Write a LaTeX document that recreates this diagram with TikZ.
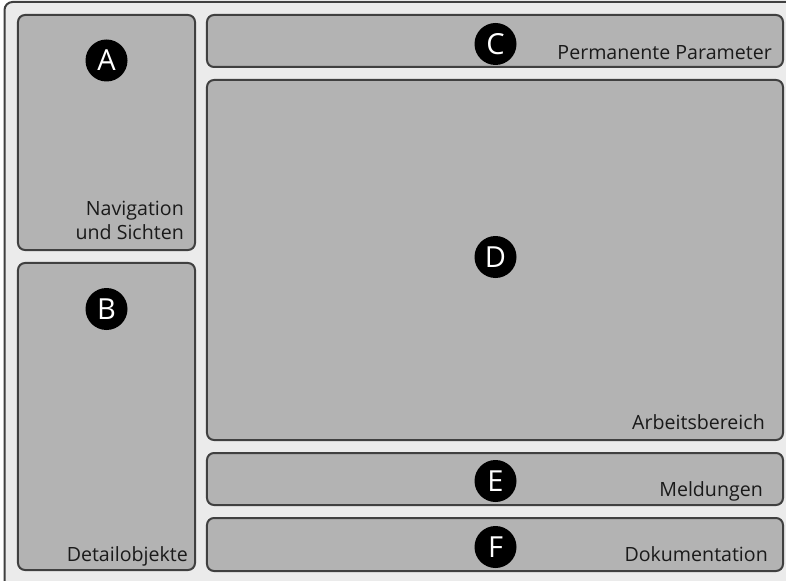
\documentclass[tikz,border=0pt]{standalone}
\usepackage{fontspec}
\setmainfont{Open Sans}
\definecolor{bgc}{HTML}{EBEBEB}
\definecolor{boxc}{HTML}{B3B3B3}
\definecolor{linec}{HTML}{404040}
\definecolor{txtc}{HTML}{1A1A1A}
\begin{document}
\begin{tikzpicture}[x=1bp,y=-1bp,
  panel/.style={draw=linec, fill=boxc, line width=2bp, rounded corners=7bp, inner sep=0pt, outer sep=0pt},
  badge/.style={circle, fill=black, text=white, minimum size=42bp, inner sep=0pt, font=\fontsize{29bp}{29bp}\selectfont},
  lbl/.style={anchor=base east, inner sep=0pt, text=txtc, font=\fontsize{19.6bp}{24bp}\selectfont}]
\useasboundingbox (0,0) rectangle (786,581);
\fill[white] (0,0) rectangle (786,581);
\draw[draw=linec, fill=bgc, line width=2bp, rounded corners=8bp] (4.5,2) rectangle (800,600);
% panels
\node[panel, minimum width=177bp, minimum height=235bp] (pA) at (106.5,132.5) {};
\node[panel, minimum width=177bp, minimum height=307bp] (pB) at (106.5,416.5) {};
\node[panel, minimum width=576bp, minimum height=52bp] (pC) at (495,41) {};
\node[panel, minimum width=576bp, minimum height=360bp] (pD) at (495,260) {};
\node[panel, minimum width=576bp, minimum height=52bp] (pE) at (495,479) {};
\node[panel, minimum width=576bp, minimum height=53bp] (pF) at (495,544.5) {};
% badges
\node[badge] (bA) at (106.5,60.5) {A};
\node[badge] (bB) at (106.5,309) {B};
\node[badge] (bC) at (495.5,44) {C};
\node[badge] (bD) at (495.5,257) {D};
\node[badge] (bE) at (495.5,481) {E};
\node[badge] (bF) at (495.5,547) {F};
% labels
\node[lbl, anchor=south east, align=right] (lA) at (184,240) {Navigation\\und Sichten};
\node[lbl] (lB) at (188,561.5) {Detailobjekte};
\node[lbl] (lC) at (772,60) {Permanente Parameter};
\node[lbl] (lD) at (765,429) {Arbeitsbereich};
\node[lbl] (lE) at (763,496.5) {Meldungen};
\node[lbl] (lF) at (768,561.5) {Dokumentation};
\end{tikzpicture}
\end{document}
